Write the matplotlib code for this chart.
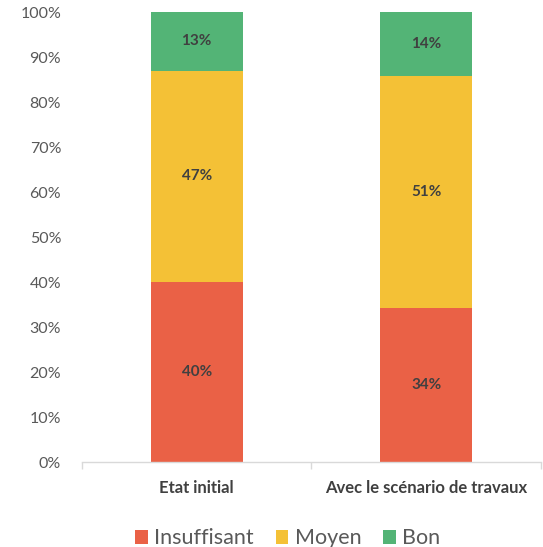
import matplotlib
matplotlib.use("Agg")
import matplotlib.pyplot as plt
import numpy as np

plt.rcParams['font.family'] = ['Lato', 'DejaVu Sans']

categories = ["Etat initial", "Avec le scénario de travaux"]
series_names = ["Insuffisant", "Moyen", "Bon"]
insuffisant = [40, 34]
moyen = [47, 51]
bon = [13, 14]
colors = ["#EA6146", "#F4C136", "#53B476"]

values = np.array([insuffisant, moyen, bon], dtype=float)
shares = values / values.sum(axis=0) * 100  # 100% stacked

fig = plt.figure(figsize=(5.43, 5.47), dpi=100)
ax = fig.add_axes([0.151, 0.155, 0.845, 0.823])

x = np.arange(len(categories))
bottom = np.zeros(len(categories))
for name, raw, share, col in zip(series_names, values, shares, colors):
    ax.bar(x, share, 0.4, bottom=bottom, color=col, label=name, zorder=2)
    for xi, b, s, r in zip(x, bottom, share, raw):
        ax.text(xi, b + s / 2, f"{int(r)}%", ha="center", va="center",
                fontsize=11, fontweight="bold", color="#404040")
    bottom += share

ax.set_xlim(-0.5, len(categories) - 0.5)
ax.set_ylim(0, 100)
ax.set_yticks(np.arange(0, 101, 10))
ax.set_yticklabels([f"{v}%" for v in range(0, 101, 10)])
ax.tick_params(axis="y", length=0, labelsize=11.5, labelcolor="#595959", pad=15)

ax.set_xticks(x)
ax.set_xticklabels(categories, fontweight="bold", fontsize=12, color="#404040")
ax.set_xticks(np.arange(-0.5, len(categories), 1), minor=True)
ax.tick_params(axis="x", which="major", length=0, pad=13)
ax.tick_params(axis="x", which="minor", length=5, color="#D9D9D9", width=1)

for side in ["left", "right", "top"]:
    ax.spines[side].set_visible(False)
ax.spines["bottom"].set_color("#D9D9D9")
ax.spines["bottom"].set_linewidth(1)

fig.legend(loc="lower center", bbox_to_anchor=(0.53, -0.038), ncol=3, frameon=False,
           fontsize=15.5, handlelength=0.6, handleheight=0.6, handletextpad=0.3,
           columnspacing=1.0, labelcolor="#595959")

fig.savefig("out.png", dpi=100)
